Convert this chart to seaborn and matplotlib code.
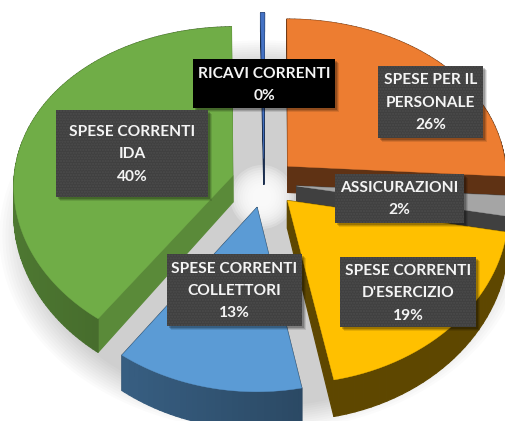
import numpy as np
import matplotlib
matplotlib.use("Agg")
import matplotlib.pyplot as plt
import seaborn as sns
from matplotlib.collections import PolyCollection
from matplotlib.patches import Polygon, Rectangle, Ellipse
from matplotlib.transforms import Affine2D, IdentityTransform

categories = ["RICAVI CORRENTI", "SPESE PER IL\nPERSONALE", "ASSICURAZIONI",
              "SPESE CORRENTI\nD'ESERCIZIO", "SPESE CORRENTI\nCOLLETTORI", "SPESE CORRENTI\nIDA"]
values = [0.3, 26, 2, 19, 13, 40]
colors = ["#4472C4", "#ED7D31", "#A5A5A5", "#FFC000", "#5B9BD5", "#70AD47"]
draw_order = [0, 1, 2, 5, 4, 3]

W, H = 506, 421
CX, CY, SX, SY = 264, 183, 219, 165
sns.set_theme(style="white")
plt.rcParams["font.family"] = ["Lato", "DejaVu Sans"]

fig = plt.figure(figsize=(W / 100, H / 100), dpi=100, facecolor="white")
ax = fig.add_axes([0, 0, 1, 1])
wedges, _ = ax.pie(values, colors=colors, startangle=90.9, counterclock=False,
                   explode=[0.15] * len(values), radius=1)
ax.set_aspect("auto")
ax.set_xlim(-CX / SX, (W - CX) / SX)
ax.set_ylim(-(H - CY) / SY, CY / SY)
ax.axis("off")
px = IdentityTransform()   # display pixels, y measured from the bottom


def persp(v):
    out = v.copy()
    out[:, 0] = v[:, 0] * (1 - 0.06 * v[:, 1])
    out[:, 1] = v[:, 1] * (1 - 0.09 * v[:, 1])
    return out


def depth(v):
    out = v.copy()
    out[:, 1] = v[:, 1] - (27 - 8 * v[:, 1]) / SY
    return out


# soft drop shadow under the whole pie
for s in np.linspace(1.03, 0.90, 12):
    ax.add_patch(Ellipse((262, H - 236), 510 * s, 380 * s, transform=px,
                         fc="black", ec="none", alpha=0.017, zorder=1))
for s in np.linspace(1.0, 0.3, 10):
    ax.add_patch(Ellipse((262, H - 197), 64 * s, 64 * s, transform=px,
                         fc="white", ec="none", alpha=0.22, zorder=1.5))

z = 2
for i in draw_order:
    w = wedges[i]
    poly = w.get_path().transformed(Affine2D().scale(1000)).to_polygons(closed_only=False)[0] / 1000
    poly = persp(poly)
    w.remove()
    base = np.array(matplotlib.colors.to_rgb(colors[i]))
    low = depth(poly)
    quads, cols, order = [], [], []
    for a in range(len(poly) - 1):
        q = np.array([poly[a], poly[a + 1], low[a + 1], low[a]])
        mx = q[:, 0].mean()
        radial = np.hypot(*(poly[a + 1] - poly[a])) > 0.3
        f = 0.8 if radial and i == 5 else (0.40 if radial else 0.50 - 0.17 * mx)
        if i == 2:
            f = 0.39
        if i == 3:
            f = 0.37
        quads.append(q)
        cols.append(tuple(np.clip(base * f, 0, 1)))
        order.append(-q[:, 1].mean())
    idx = np.argsort(order)
    ax.add_collection(PolyCollection([quads[k] for k in idx],
                                     facecolors=[cols[k] for k in idx],
                                     edgecolors=[cols[k] for k in idx],
                                     linewidths=0.9, zorder=z))
    ax.add_patch(Polygon(poly, closed=True, fc=colors[i], ec=colors[i], lw=0.3, zorder=z + 0.5))
    z += 1

total_rounded = [f"{round(v)}%" for v in values]
boxes = {
    0: (193, 59, 335, 108, "#000000", [74, 96]),
    1: (378, 66, 483, 138, "#404040", [80, 103, 125]),
    2: (335, 174, 464, 223, "#404040", [188, 210]),
    3: (340, 257, 476, 327, "#404040", [271, 293, 316]),
    4: (167, 254, 302, 326, "#404040", [269, 291, 313]),
    5: (56, 110, 208, 197, "#404040", [132, 154, 177]),
}
for i in [5, 1, 2, 3, 4, 0]:
    x0, y0, x1, y1, fc, ys = boxes[i]
    for off, al in [(4, 0.10), (3, 0.15), (2, 0.20)]:
        ax.add_patch(Rectangle((x0 + off, H - y1 - off), x1 - x0, y1 - y0, transform=px,
                               fc="black", ec="none", alpha=al, zorder=20))
    ax.add_patch(Rectangle((x0, H - y1), x1 - x0, y1 - y0, transform=px, fc=fc, ec="none", zorder=21))
    if fc != "#000000":
        ax.add_patch(Rectangle((x0, H - y1), x1 - x0, y1 - y0, transform=px, fc="none",
                               ec="#4c4c4c", lw=0, hatch="......", zorder=21.5))
    lines = categories[i].split("\n") + [total_rounded[i]]
    for t, y in zip(lines, ys):
        ax.text((x0 + x1) / 2, H - y, t, transform=px, ha="center", va="center",
                color="#F4F4F4", fontsize=11.2, fontweight="bold", zorder=22)

fig.savefig("out.png", dpi=100, facecolor="white")
